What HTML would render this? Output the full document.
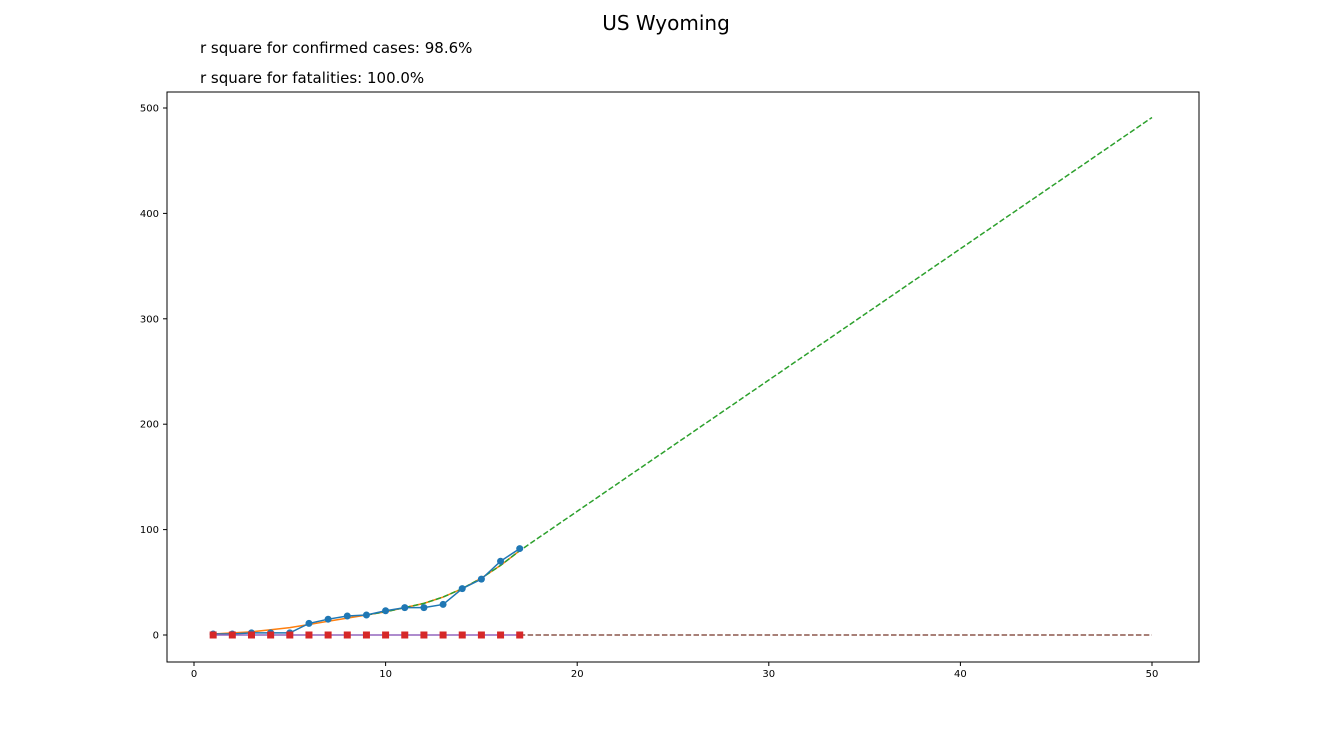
<!DOCTYPE html>
<html><head><meta charset="utf-8"><style>
body{margin:0;background:#fff;font-family:"Liberation Sans","DejaVu Sans",sans-serif;}
</style></head><body>
<svg id="chart" width="1332" height="756" xmlns="http://www.w3.org/2000/svg" style="display:block">
<rect width="1332" height="756" fill="#fff"/>
<text x="666" y="30" font-size="20" text-anchor="middle" fill="#000" font-family="DejaVu Sans, sans-serif">US Wyoming</text>
<text x="200" y="53" font-size="15" fill="#000" font-family="DejaVu Sans, sans-serif">r square for confirmed cases: 98.6%</text>
<text x="200" y="83" font-size="15" fill="#000" font-family="DejaVu Sans, sans-serif">r square for fatalities: 100.0%</text>
<g id="plot"></g>
<rect x="167" y="92" width="1032" height="570" fill="none" stroke="#000" stroke-width="1"/>
</svg>
<script>
const days = [1,2,3,4,5,6,7,8,9,10,11,12,13,14,15,16,17];
const confirmed = [1,1,2,2,2,11,15,18,19,23,26,26,29,44,53,70,82];
const confirmedFit = [1,2,3,5,7,10,13,16,19,22,26,30,36,44,54,66,80];
const predX = [9,10,11,12,13,14,15,16,17,50];
const predY = [19,22,26,30,36,44,54,66,80,491];
const fatalities = [0,0,0,0,0,0,0,0,0,0,0,0,0,0,0,0,0];
const fatalPredX = [17,50];
const fatalPredY = [0,0];
const xTicks = [0,10,20,30,40,50];
const yTicks = [0,100,200,300,400,500];

const sx = v => 194 + v*19.16;
const sy = v => 635 - v*1.054;
const NS = "http://www.w3.org/2000/svg";
const g = document.getElementById('plot');
function mk(t, a){const e=document.createElementNS(NS,t);for(const k in a)e.setAttribute(k,a[k]);g.appendChild(e);return e;}
function pts(xs,ys){return xs.map((x,i)=>sx(x)+','+sy(ys[i])).join(' ');}

xTicks.forEach(t=>{
  const l=mk('line',{x1:sx(t),x2:sx(t),y1:662,y2:666,stroke:'#000'});
  
  
  const tx=mk('text',{x:sx(t),y:677,'font-size':10,'text-anchor':'middle','font-family':'DejaVu Sans, sans-serif'});
  tx.textContent=t;
  
  
});
yTicks.forEach(t=>{
  const l=mk('line',{x1:163,x2:167,y1:sy(t),y2:sy(t),stroke:'#000'});
  
  
  const tx=mk('text',{x:159,y:sy(t)+3.5,'font-size':10,'text-anchor':'end','font-family':'DejaVu Sans, sans-serif'});
  tx.textContent=t;
  
  
});

let e;
e=mk('polyline',{points:pts(fatalPredX,fatalPredY),fill:'none',stroke:'#8c564b','stroke-width':1.5,'stroke-dasharray':'5.5,2.4'});


e=mk('polyline',{points:pts(days,confirmedFit),fill:'none',stroke:'#ff7f0e','stroke-width':1.5});


e=mk('polyline',{points:pts(predX,predY),fill:'none',stroke:'#2ca02c','stroke-width':1.5,'stroke-dasharray':'5.5,2.4'});


e=mk('polyline',{points:pts(days,confirmed),fill:'none',stroke:'#1f77b4','stroke-width':1.5});


days.forEach((d,i)=>{
  const c=mk('circle',{cx:sx(d),cy:sy(confirmed[i]),r:3.5,fill:'#1f77b4'});
  
  
});
e=mk('polyline',{points:pts(days,fatalities),fill:'none',stroke:'#9467bd','stroke-width':1.5});


days.forEach((d,i)=>{
  const r=mk('rect',{x:sx(d)-3.5,y:sy(fatalities[i])-3.5,width:7,height:7,fill:'#d62728'});
  
  
});
</script>
</body></html>
